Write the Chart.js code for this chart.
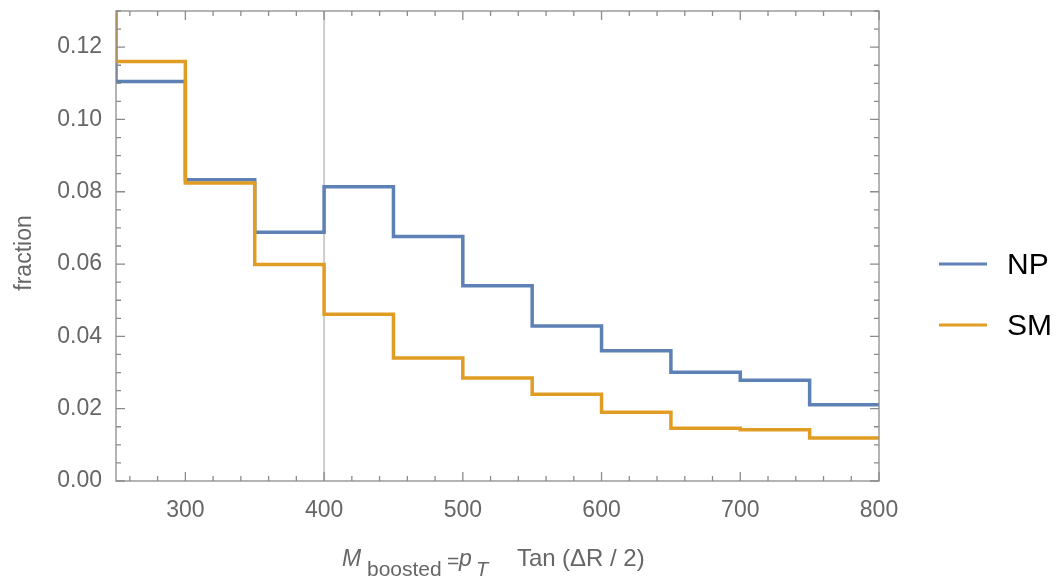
<!DOCTYPE html>
<html lang="en">
<head>
    <meta charset="UTF-8">
    <title>Fraction vs M_boosted</title>
    <script src="https://cdn.jsdelivr.net/npm/chart.js"></script>
    <style>
        body { margin: 0; background: #fff; }
        #wrap { width: 1061px; height: 578px; }
    </style>
</head>
<body>
    <div id="wrap"><canvas id="histChart" width="1061" height="578"></canvas></div>

    <script>
        // Histogram data (bin edges, fraction per bin)
        const binEdges = [200, 250, 300, 350, 400, 450, 500, 550, 600, 650, 700, 750, 800];
        const npValues = [0.135, 0.1105, 0.0833, 0.0688, 0.0814, 0.0676, 0.0540, 0.0429, 0.0360, 0.0301, 0.0279, 0.0211];
        const smValues = [0.145, 0.1160, 0.0824, 0.0599, 0.0461, 0.0340, 0.0285, 0.0240, 0.0190, 0.0146, 0.0142, 0.0119];
        const seriesNames = ['NP', 'SM'];
        const xTicks = [300, 400, 500, 600, 700, 800];
        const yTicks = [0, 0.02, 0.04, 0.06, 0.08, 0.10, 0.12];
        const refLine = 400;

        const FONT = '"Liberation Sans", Arial, sans-serif';
        const GREY = '#666666';

        function stepPoints(vals) {
            return binEdges.map((e, i) => ({ x: e, y: vals[Math.min(i, vals.length - 1)] }));
        }

        // frame, inward ticks, reference line, titles, legend
        const framePlugin = {
            id: 'frame',
            beforeDatasetsDraw(chart) {
                const { ctx, chartArea: a, scales: { x } } = chart;
                const px = x.getPixelForValue(refLine);
                ctx.save();
                ctx.strokeStyle = '#cccccc';
                ctx.lineWidth = 2;
                ctx.beginPath();
                ctx.moveTo(px, a.top);
                ctx.lineTo(px, a.bottom);
                ctx.stroke();
                ctx.restore();
            },
            afterDatasetsDraw(chart) {
                const { ctx, chartArea: a, scales: { x, y } } = chart;
                ctx.save();
                ctx.strokeStyle = '#8c8c8c';
                ctx.lineWidth = 1.3;
                ctx.strokeRect(a.left, a.top, a.right - a.left, a.bottom - a.top);
                ctx.beginPath();
                for (let v = 260; v <= 800; v += 20) {
                    const p = x.getPixelForValue(v);
                    const len = v % 100 === 0 ? 9 : 5;
                    ctx.moveTo(p, a.bottom); ctx.lineTo(p, a.bottom - len);
                    ctx.moveTo(p, a.top); ctx.lineTo(p, a.top + len);
                }
                for (let i = 0; i <= 26; i++) {
                    const p = y.getPixelForValue(i * 0.005);
                    const len = i % 4 === 0 ? 9 : 5;
                    ctx.moveTo(a.left, p); ctx.lineTo(a.left + len, p);
                    ctx.moveTo(a.right, p); ctx.lineTo(a.right - len, p);
                }
                ctx.stroke();
                ctx.restore();
            },
            afterDraw(chart) {
                const ctx = chart.ctx;
                ctx.save();
                ctx.fillStyle = GREY;
                ctx.textBaseline = 'alphabetic';
                // x axis title: M_boosted = p_T Tan (ΔR/2)
                ctx.font = 'italic 23px ' + FONT;
                ctx.fillText('M', 342, 566);
                ctx.font = '21px ' + FONT;
                ctx.fillText('boosted', 367, 576);
                ctx.fillText('=', 447, 568);
                ctx.font = 'italic 23px ' + FONT;
                ctx.fillText('p', 459, 566);
                ctx.font = 'italic 20px ' + FONT;
                ctx.fillText('T', 476, 576);
                ctx.font = '24px ' + FONT;
                ctx.fillText('Tan', 517, 566);
                ctx.fillText('(ΔR / 2)', 562, 566);
                // y axis title
                ctx.translate(31, 253);
                ctx.rotate(-Math.PI / 2);
                ctx.textAlign = 'center';
                ctx.font = '23px ' + FONT;
                ctx.fillText('fraction', 0, 0);
                ctx.restore();

                // legend
                ctx.save();
                const rows = [264, 325];
                chart.data.datasets.forEach((ds, i) => {
                    ctx.strokeStyle = ds.borderColor;
                    ctx.lineWidth = 3;
                    ctx.beginPath();
                    ctx.moveTo(939, rows[i]);
                    ctx.lineTo(987, rows[i]);
                    ctx.stroke();
                    ctx.fillStyle = '#000';
                    ctx.font = '30px ' + FONT;
                    ctx.textBaseline = 'middle';
                    ctx.fillText(ds.label, 1007, rows[i] + 2);
                });
                ctx.restore();
            }
        };

        const config = {
            type: 'line',
            data: {
                datasets: [
                    {
                        label: seriesNames[0],
                        data: stepPoints(npValues),
                        borderColor: '#5e81b5',
                        borderWidth: 3.5,
                        stepped: true,
                        pointRadius: 0,
                        fill: false,
                        order: 1
                    },
                    {
                        label: seriesNames[1],
                        data: stepPoints(smValues),
                        borderColor: '#e19c24',
                        borderWidth: 3.5,
                        stepped: true,
                        pointRadius: 0,
                        fill: false,
                        order: 0
                    }
                ]
            },
            options: {
                responsive: false,
                animation: false,
                layout: { padding: { top: 11, right: 182, left: 0, bottom: 0 } },
                plugins: {
                    legend: { display: false },
                    tooltip: { enabled: false }
                },
                scales: {
                    x: {
                        type: 'linear',
                        min: 250,
                        max: 800,
                        afterBuildTicks: s => { s.ticks = xTicks.map(v => ({ value: v })); },
                        afterFit: s => { s.height = 97; s.paddingLeft = 0; s.paddingRight = 0; },
                        grid: { display: false, drawTicks: false },
                        border: { display: false },
                        ticks: {
                            color: GREY,
                            padding: 16,
                            maxRotation: 0,
                            font: { family: FONT, size: 23 }
                        }
                    },
                    y: {
                        min: 0,
                        max: 0.13,
                        afterBuildTicks: s => { s.ticks = yTicks.map(v => ({ value: v })); },
                        afterFit: s => { s.width = 116; s.paddingTop = 0; s.paddingBottom = 0; },
                        grid: { display: false, drawTicks: false },
                        border: { display: false },
                        ticks: {
                            color: GREY,
                            padding: 14,
                            font: { family: FONT, size: 23 },
                            callback: v => v.toFixed(2)
                        }
                    }
                }
            },
            plugins: [framePlugin]
        };

        const histChart = new Chart(document.getElementById('histChart'), config);
    </script>
</body>
</html>
